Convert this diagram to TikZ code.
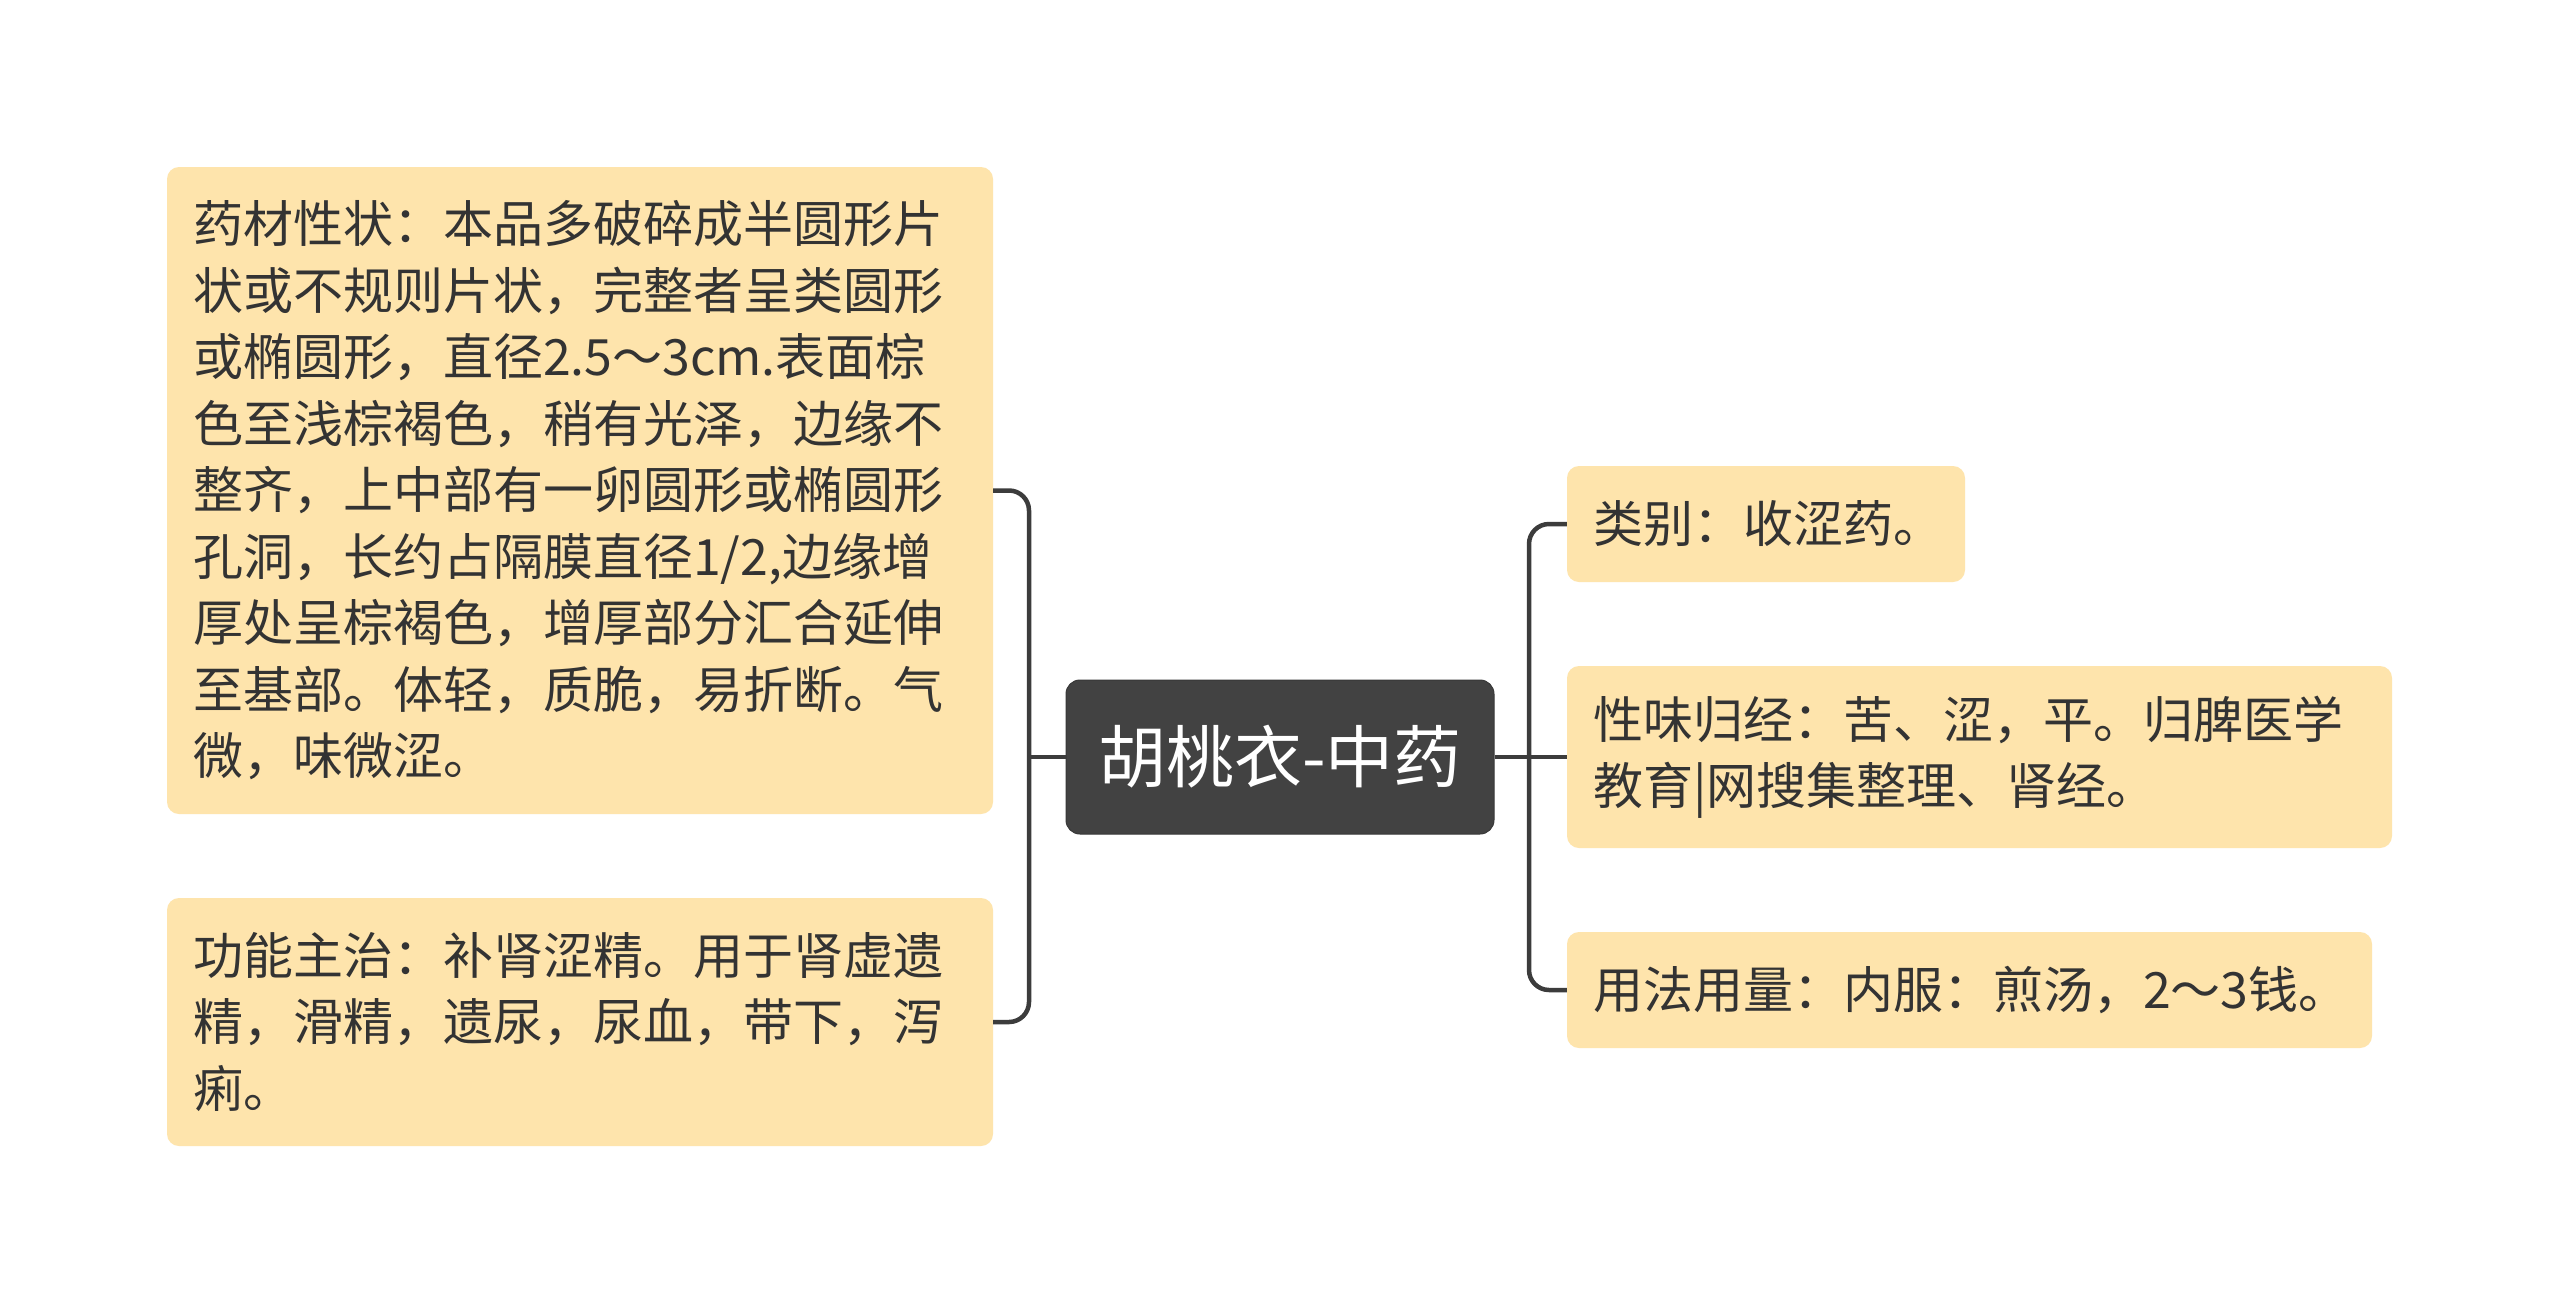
\documentclass[tikz,border=0pt]{standalone}
\usepackage{fontspec}
\setmainfont{Noto Sans CJK SC}
\definecolor{leaffill}{HTML}{FEE4AC}
\definecolor{rootfill}{HTML}{424242}
\definecolor{linegray}{HTML}{3C3C3C}
\definecolor{textdark}{HTML}{333333}
\begin{document}
\begin{tikzpicture}[x=1pt,y=-1pt,
  leaf/.style={fill=leaffill, rounded corners=12pt, inner xsep=26pt, inner ysep=0pt,
    align=left, text=textdark, font=\fontsize{50}{66.5}\selectfont, anchor=center},
  rootbox/.style={fill=rootfill, draw=rootfill!85!black, line width=1pt, rounded corners=14pt,
    text=white, font=\fontsize{68}{80}\selectfont, minimum width=428pt, minimum height=154pt,
    inner sep=0pt, anchor=center},
  conn/.style={draw=linegray, line width=4.5pt, rounded corners=20pt}]
\useasboundingbox[fill=white] (0,0) rectangle (2560,1315);

\node[rootbox] (root) at (1280,757) {胡桃衣-中药};

\node[leaf, minimum width=826pt, minimum height=647pt, text width=774pt] (L1) at (580,490.5)
{药材性状：本品多破碎成半圆形片\\
状或不规则片状，完整者呈类圆形\\
或椭圆形，直径2.5～3cm.表面棕\\
色至浅棕褐色，稍有光泽，边缘不\\
整齐，上中部有一卵圆形或椭圆形\\
孔洞，长约占隔膜直径1/2,边缘增\\
厚处呈棕褐色，增厚部分汇合延伸\\
至基部。体轻，质脆，易折断。气\\
微，味微涩。};

\node[leaf, minimum width=826pt, minimum height=248pt, text width=774pt] (L2) at (580,1022)
{功能主治：补肾涩精。用于肾虚遗\\
精，滑精，遗尿，尿血，带下，泻\\
痢。};

\node[leaf, minimum width=398pt, minimum height=116pt, text width=346pt] (R1) at (1766,524)
{类别：收涩药。};

\node[leaf, minimum width=825pt, minimum height=182pt, text width=773pt] (R2) at (1979.5,757)
{性味归经：苦、涩，平。归脾医学\\
教育|网搜集整理、肾经。};

\node[leaf, minimum width=805pt, minimum height=116pt, text width=753pt] (R3) at (1969.5,990)
{用法用量：内服：煎汤，2～3钱。};

\coordinate (jl) at (1029,757);
\coordinate (jr) at (1529,757);

\draw[conn] (L1.east) -| (jl) |- (L2.east);
\draw[conn] (root.west) -- (jl);
\draw[conn] (R1.west) -| (jr) |- (R3.west);
\draw[conn] (root.east) -- (R2.west);
\end{tikzpicture}
\end{document}
